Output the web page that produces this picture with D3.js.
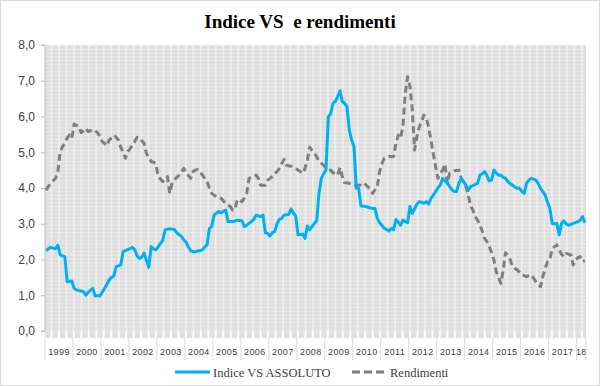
<!DOCTYPE html>
<html><head><meta charset="utf-8">
<script src="https://cdn.jsdelivr.net/npm/d3@7"></script>
<style>html,body{margin:0;padding:0;background:#fff;}svg{display:block;}</style>
</head><body>
<script>
const title = "Indice VS\u00a0 e rendimenti";
const seriesNames = ["Indice VS ASSOLUTO", "Rendimenti"];
const yearLabels = ["1999","2000","2001","2002","2003","2004","2005","2006","2007","2008","2009","2010","2011","2012","2013","2014","2015","2016","2017","18"];
const yTicks = [0,1,2,3,4,5,6,7,8];

// monthly values, Jan 1999 .. Apr 2018
const indiceVS = [
2.25,2.3,2.34,2.32,2.3,2.4,2.13,2.1,2.08,1.38,1.39,1.4,
1.19,1.15,1.13,1.12,1.1,1.0,1.08,1.14,1.19,0.98,0.99,0.98,
1.08,1.19,1.3,1.43,1.5,1.54,1.8,1.82,1.85,2.22,2.25,2.28,
2.3,2.34,2.27,2.1,2.03,2.06,2.18,1.97,1.78,2.36,2.3,2.27,
2.35,2.45,2.53,2.83,2.85,2.86,2.85,2.84,2.75,2.69,2.65,2.55,
2.48,2.35,2.25,2.22,2.22,2.24,2.25,2.27,2.35,2.41,2.87,2.92,
3.24,3.3,3.34,3.31,3.35,3.38,3.06,3.06,3.06,3.08,3.1,3.09,
3.08,2.92,2.96,3.01,3.06,3.12,3.24,3.22,3.2,3.24,2.75,2.73,
2.66,2.75,2.78,3.0,3.12,3.15,3.24,3.25,3.26,3.41,3.3,3.22,
2.69,2.7,2.71,2.59,2.94,2.83,2.92,3.01,3.08,3.85,4.27,4.4,
4.5,5.99,6.08,6.37,6.42,6.55,6.72,6.42,6.37,6.27,5.62,5.34,
5.16,3.99,3.99,3.5,3.49,3.48,3.46,3.44,3.43,3.43,3.15,3.03,
2.95,2.87,2.84,2.8,2.87,2.83,3.12,3.04,2.96,3.1,3.06,3.03,
3.48,3.29,3.42,3.55,3.62,3.6,3.57,3.62,3.55,3.71,3.8,3.9,
4.0,4.08,4.27,4.2,4.15,4.04,3.95,3.9,3.9,4.13,4.27,4.18,
4.08,3.94,4.04,4.07,4.1,4.13,4.36,4.4,4.46,4.35,4.2,4.22,
4.5,4.42,4.36,4.36,4.3,4.27,4.18,4.12,4.08,4.03,3.99,3.99,
3.9,3.85,4.13,4.22,4.27,4.25,4.22,4.13,3.99,3.9,3.8,3.6,
3.43,3.01,3.0,3.01,2.69,3.01,3.08,3.0,2.96,2.98,3.01,3.03,
3.06,3.1,3.2,3.03
];
const rendimenti = [
3.94,4.05,4.13,4.2,4.27,4.46,5.02,5.15,5.25,5.4,5.48,5.39,
5.79,5.75,5.72,5.55,5.6,5.67,5.58,5.6,5.64,5.6,5.55,5.45,
5.3,5.25,5.18,5.34,5.4,5.48,5.42,5.34,5.14,5.0,4.83,5.02,
5.1,5.2,5.3,5.42,5.39,5.32,5.25,4.97,4.85,4.74,4.72,4.69,
4.34,4.25,4.18,4.25,4.32,3.85,4.15,4.22,4.3,4.36,4.45,4.55,
4.41,4.35,4.27,4.46,4.5,4.52,4.45,4.36,4.27,4.18,4.0,3.85,
3.8,3.76,3.74,3.71,3.64,3.57,3.52,3.48,3.38,3.43,3.68,3.65,
3.62,3.72,3.85,4.27,4.3,4.33,4.36,4.27,4.08,4.08,4.08,4.22,
4.27,4.32,4.4,4.46,4.55,4.68,4.8,4.64,4.62,4.61,4.58,4.55,
4.5,4.46,4.41,4.55,4.78,5.14,5.05,4.97,4.88,4.74,4.69,4.64,
4.55,4.52,4.5,4.43,4.4,4.36,4.57,4.32,4.15,4.14,4.13,4.1,
4.08,4.08,4.08,4.08,4.04,4.1,4.03,3.97,3.85,3.95,4.04,4.46,
4.69,4.83,4.85,4.88,4.88,4.88,5.25,5.48,5.39,5.75,6.65,7.11,
6.85,6.2,5.06,5.44,5.71,5.85,6.04,5.95,5.71,5.34,4.97,4.6,
4.27,4.4,4.5,4.67,4.13,4.41,4.45,4.48,4.49,4.5,4.27,4.15,
4.04,3.8,3.5,3.38,3.2,3.1,2.97,2.8,2.59,2.5,2.36,2.2,
1.99,1.66,1.5,1.33,1.71,2.19,2.1,1.99,1.8,1.75,1.71,1.64,
1.57,1.55,1.52,1.55,1.57,1.48,1.38,1.3,1.24,1.52,1.75,1.94,
1.99,2.31,2.36,2.41,2.27,2.15,2.08,2.17,2.15,2.13,1.85,1.99,
2.05,2.08,1.94,1.97
];

const W = 600, H = 386;
const plot = {left: 45, right: 586, top: 45, bottom: 331};
const svg = d3.select("body").append("svg").attr("width", W).attr("height", H);

const defs = svg.append("defs");
const pat = defs.append("pattern").attr("id","bgpat").attr("patternUnits","userSpaceOnUse")
  .attr("x", plot.left).attr("y", plot.top).attr("width", 7.47).attr("height", 3.74);
pat.append("rect").attr("width", 7.47).attr("height", 3.74).attr("fill", "#dcdcdc");
pat.append("rect").attr("y", 0).attr("width", 7.47).attr("height", 1.4).attr("fill", "#e7e7e7");
pat.append("rect").attr("x", 5.5).attr("width", 1.9).attr("height", 3.74).attr("fill", "#eeeeee");
const pat2 = defs.append("pattern").attr("id","tickpat").attr("patternUnits","userSpaceOnUse")
  .attr("x", plot.left).attr("y", 0).attr("width", 7.47).attr("height", 10);
pat2.append("rect").attr("width", 7.47).attr("height", 10).attr("fill", "#e0e0e0");
pat2.append("rect").attr("x", 5.5).attr("width", 1.9).attr("height", 10).attr("fill", "#ffffff");

// chart border
svg.append("rect").attr("x",0.5).attr("y",0.5).attr("width",W-1).attr("height",H-1)
  .attr("fill","#fff").attr("stroke","#d9d9d9");

const months = d3.range(indiceVS.length);
const x = d3.scaleBand().domain(months).range([plot.left, plot.right]).padding(0);
const y = d3.scaleLinear().domain([0, 8]).range([plot.bottom, plot.top]);
const cx = i => x(i) + x.bandwidth()/2;

// plot background
svg.append("rect").attr("x", plot.left).attr("y", plot.top)
  .attr("width", plot.right - plot.left).attr("height", plot.bottom - plot.top)
  .attr("fill", "url(#bgpat)");
svg.append("rect").attr("x", plot.left).attr("y", plot.bottom)
  .attr("width", plot.right - plot.left).attr("height", 7)
  .attr("fill", "url(#tickpat)");

// y axis
const yAxis = d3.axisLeft(y).tickValues(yTicks).tickSize(4).tickPadding(6)
  .tickFormat(d => d3.format(".1f")(d).replace(".", ","));
const gy = svg.append("g").attr("transform", `translate(${plot.left},0)`).call(yAxis);
gy.select(".domain").attr("stroke", "#bfbfbf").attr("d", `M-4,${plot.top}H0V${plot.bottom}H-4`);
gy.selectAll(".tick line").attr("stroke", "#bfbfbf");
gy.selectAll(".tick text").attr("fill", "#404040").style("font-family", "'Liberation Sans', Arial, sans-serif")
  .style("font-size", "12px");

// x category year labels and separators
const yearEnd = k => Math.min(k*12 + 11, months.length - 1);
const gx = svg.append("g");
yearLabels.forEach((lab, k) => {
  const x0 = x(k*12), x1 = x(yearEnd(k)) + x.bandwidth();
  gx.append("text").attr("x", (x0 + x1)/2).attr("y", 355).attr("text-anchor", "middle")
    .attr("fill", "#404040").style("font-family", "'Liberation Sans', Arial, sans-serif")
    .style("font-size", "9px").style("letter-spacing", "0.4px").text(lab);
  gx.append("line").attr("x1", x0).attr("x2", x0).attr("y1", plot.bottom + 7).attr("y2", 360)
    .attr("stroke", "#d9d9d9");
});
gx.append("line").attr("x1", plot.right).attr("x2", plot.right).attr("y1", plot.bottom + 7).attr("y2", 360)
  .attr("stroke", "#d9d9d9");

// lines
const line = d3.line().x((d, i) => cx(i)).y(d => y(d));
svg.append("path").datum(rendimenti).attr("d", line).attr("fill", "none")
  .attr("stroke", "#7f7f7f").attr("stroke-width", 3).attr("stroke-dasharray", "7,4")
  .attr("stroke-linejoin", "round");
svg.append("path").datum(indiceVS).attr("d", line).attr("fill", "none")
  .attr("stroke", "#00b0f0").attr("stroke-width", 3).attr("stroke-linejoin", "round");

// title
svg.append("text").attr("x", 300).attr("y", 28).attr("text-anchor", "middle")
  .style("font-family", "'Liberation Serif', 'DejaVu Serif', serif").style("font-weight", "bold")
  .style("font-size", "19px").attr("fill", "#000").text(title);

// legend
const lg = svg.append("g");
lg.append("line").attr("x1", 175).attr("x2", 210).attr("y1", 372).attr("y2", 372)
  .attr("stroke", "#00b0f0").attr("stroke-width", 3);
lg.append("text").attr("x", 213).attr("y", 376.5).text(seriesNames[0]);
lg.append("line").attr("x1", 352).attr("x2", 384).attr("y1", 372).attr("y2", 372)
  .attr("stroke", "#7f7f7f").attr("stroke-width", 3).attr("stroke-dasharray", "8,4");
lg.append("text").attr("x", 390).attr("y", 376.5).text(seriesNames[1]);
lg.selectAll("text").attr("fill", "#404040")
  .style("font-family", "'Liberation Serif', 'DejaVu Serif', serif").style("font-size", "12.5px");
</script>
</body></html>
